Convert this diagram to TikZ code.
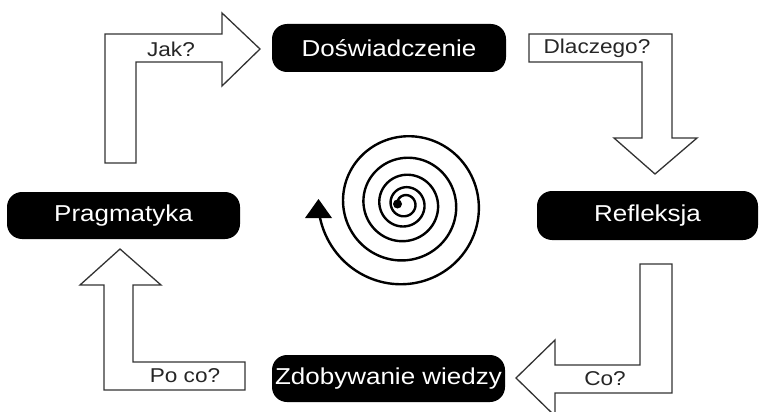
\documentclass[tikz,border=0pt]{standalone}
\usepackage{fontspec}
\setmainfont{Liberation Sans}
\usepackage{graphicx}
\newcommand{\hstr}[1]{\scalebox{1.13}[1]{#1}}
\begin{document}
\begin{tikzpicture}[x=1pt,y=-1pt,
  pill/.style={fill=black, rounded corners=15pt, inner sep=0pt, text=white,
               font=\fontsize{23}{28}\selectfont},
  barrow/.style={draw=black!80, line width=1.3pt, fill=white, line join=miter},
  lbl/.style={text=black!85, font=\fontsize{20}{24}\selectfont, inner sep=0pt}]
\useasboundingbox (0,0) rectangle (763,412);

% block arrows
\draw[barrow] (105,163) -- (105,34) -- (222,34) -- (222,13) -- (260,49) -- (222,86) -- (222,62) -- (136,62) -- (136,163) -- cycle;
\node[lbl] (jak) at (171,49) {\hstr{Jak?}};

\draw[barrow] (529,34) -- (672,34) -- (672,138) -- (697,138) -- (655,174) -- (614,138) -- (642,138) -- (642,62) -- (529,62) -- cycle;
\node[lbl] (dlaczego) at (597,48) {\hstr{Dlaczego?}};

\draw[barrow] (640,264) -- (672,264) -- (672,393) -- (555,393) -- (555,416) -- (516,378) -- (555,340) -- (555,365) -- (640,365) -- cycle;
\node[lbl] (co) at (605,379) {\hstr{Co?}};

\draw[barrow] (104,390) -- (104,285) -- (80,285) -- (120,249) -- (161,285) -- (133,285) -- (133,362) -- (245,362) -- (245,390) -- cycle;
\node[lbl] (poco) at (185,376) {\hstr{Po co?}};

% pills
\node[pill, minimum width=234pt, minimum height=48pt] (dos) at (389,48) {\hstr{Doświadczenie}};
\node[pill, minimum width=221pt, minimum height=49pt] (ref) at (647.5,215.5) {\hstr{Refleksja}};
\node[pill, minimum width=233pt, minimum height=47pt] (prag) at (123.5,215.5) {\hstr{Pragmatyka}};
\node[pill, minimum width=233pt, minimum height=47pt] (zdob) at (388.5,378.5) {\hstr{Zdobywanie wiedzy}};

% spiral
\draw[line width=2.4pt, line cap=round] plot[domain=3.14:34.4, samples=600, variable=\t, smooth]
  ({405+(5.93+0.35*\t+0.0576*\t*\t)*cos(\t r)}, {204+(5.93+0.35*\t+0.0576*\t*\t)*sin(\t r)});
\fill (397.5,204) circle (4.5pt);
\fill (305,218) -- (332,218) -- (318.5,199) -- cycle;
\end{tikzpicture}
\end{document}
